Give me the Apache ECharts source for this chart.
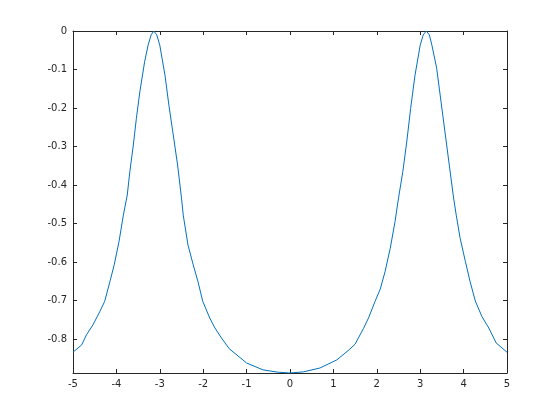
<!DOCTYPE html>
<html>
<head>
    <meta charset="utf-8">
    <script src="https://cdn.jsdelivr.net/npm/echarts@6/dist/echarts.min.js"></script>
    <style>
        html, body { margin: 0; padding: 0; background: #fff; }
    </style>
</head>
<body>
    <div id="main" style="width: 560px;height:420px;"></div>
<script type="text/javascript">
    // values
    var xs = [
        -5.00, -4.80, -4.69, -4.54, -4.38, -4.27, -4.15, -4.05, -3.94, -3.84,
        -3.75, -3.69, -3.61, -3.54, -3.46, -3.35, -3.27, -3.20, -3.14, -3.07,
        -3.00, -2.88, -2.79, -2.69, -2.59, -2.50, -2.46, -2.35, -2.23, -2.12,
        -2.01, -1.85, -1.73, -1.58, -1.40, -1.00, -0.62, -0.27, 0.00,
        0.31, 0.69, 1.08, 1.38, 1.50, 1.69, 1.81, 1.96, 2.08, 2.19,
        2.31, 2.42, 2.50, 2.60, 2.69, 2.78, 2.88, 3.00, 3.07, 3.14,
        3.21, 3.27, 3.38, 3.48, 3.58, 3.67, 3.77, 3.83, 3.92, 4.04,
        4.15, 4.27, 4.42, 4.58, 4.75, 5.00
    ];
    var ys = [
        -0.834, -0.815, -0.789, -0.763, -0.728, -0.702, -0.651, -0.607, -0.547, -0.478,
        -0.426, -0.365, -0.296, -0.227, -0.158, -0.080, -0.037, -0.010, 0.000, -0.010,
        -0.037, -0.115, -0.193, -0.270, -0.348, -0.434, -0.478, -0.556, -0.607, -0.651,
        -0.702, -0.745, -0.771, -0.797, -0.825, -0.862, -0.880, -0.886, -0.888,
        -0.885, -0.875, -0.854, -0.826, -0.813, -0.773, -0.745, -0.702, -0.670, -0.625,
        -0.564, -0.495, -0.434, -0.365, -0.288, -0.201, -0.115, -0.037, -0.010, 0.000,
        -0.010, -0.037, -0.097, -0.184, -0.270, -0.348, -0.434, -0.478, -0.538, -0.598,
        -0.651, -0.701, -0.741, -0.771, -0.810, -0.834
    ];
    var yTicks = [0, -0.1, -0.2, -0.3, -0.4, -0.5, -0.6, -0.7, -0.8];
    var xMin = -5, xMax = 5;
    var yMin = -0.888, yMax = 0;

    var points = xs.map(function (x, i) { return [x, ys[i]]; });

    var axisColor = '#262626';
    var labelFont = { color: axisColor, fontFamily: 'DejaVu Sans', fontSize: 10 };

    var myChart = echarts.init(document.getElementById('main'));

    var option = {
        animation: false,
        backgroundColor: '#fff',
        grid: { left: 73, right: 53, top: 31, bottom: 47 },
        xAxis: [{
            type: 'value', min: xMin, max: xMax, interval: 1,
            position: 'bottom',
            axisLine: { onZero: false, lineStyle: { color: axisColor, width: 1 } },
            axisTick: { inside: true, length: 4, lineStyle: { color: axisColor } },
            axisLabel: Object.assign({ margin: 6 }, labelFont),
            splitLine: { show: false }
        }, {
            type: 'value', min: xMin, max: xMax, interval: 1,
            position: 'top',
            axisLine: { onZero: false, lineStyle: { color: axisColor, width: 1 } },
            axisTick: { inside: true, length: 4, lineStyle: { color: axisColor } },
            axisLabel: { show: false },
            splitLine: { show: false }
        }],
        yAxis: [{
            type: 'value', min: yMin, max: yMax,
            position: 'left',
            axisLine: { show: true, onZero: false, lineStyle: { color: axisColor, width: 1 } },
            axisTick: { show: true, inside: true, length: 4, customValues: yTicks, lineStyle: { color: axisColor } },
            axisLabel: Object.assign({ margin: 6, customValues: yTicks }, labelFont),
            splitLine: { show: false }
        }, {
            type: 'value', min: yMin, max: yMax,
            position: 'right',
            axisLine: { show: true, onZero: false, lineStyle: { color: axisColor, width: 1 } },
            axisTick: { show: true, inside: true, length: 4, customValues: yTicks, lineStyle: { color: axisColor } },
            axisLabel: { show: false },
            splitLine: { show: false }
        }],
        series: [{
            type: 'line',
            xAxisIndex: 0,
            yAxisIndex: 0,
            data: points,
            showSymbol: false,
            symbol: 'none',
            lineStyle: { color: '#0072BD', width: 1 }
        }]
    };

    myChart.setOption(option);
</script>
</body>
</html>
